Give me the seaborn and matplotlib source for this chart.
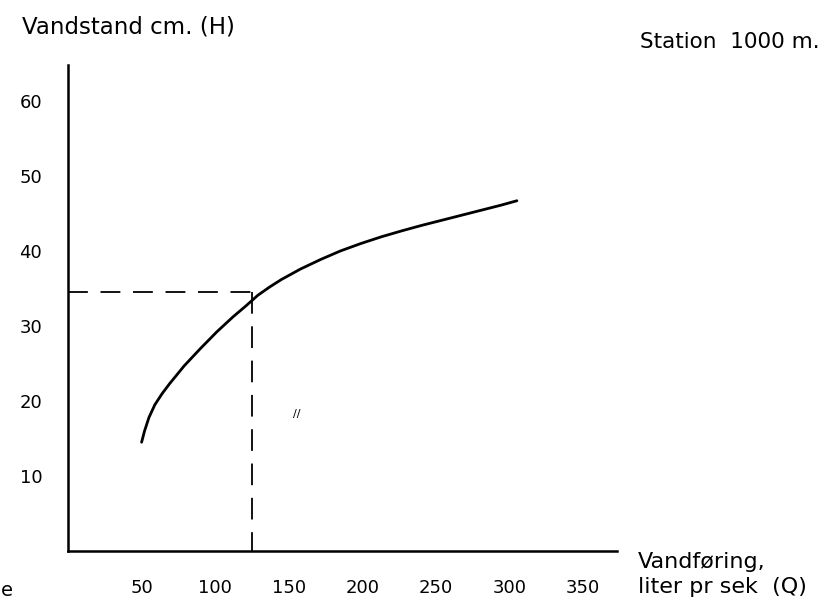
import matplotlib
matplotlib.use("Agg")
import matplotlib.pyplot as plt
import seaborn as sns
import pandas as pd

# --- data ---
discharge_q = [50, 52, 55, 59, 64, 69, 79, 90, 101, 112, 121, 129, 137, 145, 158, 172, 185, 199, 213, 227, 240, 254, 268, 282, 294, 305]
stage_h = [14.5, 16.0, 17.8, 19.5, 21.0, 22.3, 24.7, 27.0, 29.2, 31.2, 32.7, 34.1, 35.2, 36.2, 37.6, 38.9, 40.0, 41.0, 41.9, 42.7, 43.4, 44.1, 44.8, 45.5, 46.1, 46.7]
x_ticks = [50, 100, 150, 200, 250, 300, 350]
y_ticks = [10, 20, 30, 40, 50, 60]
read_h = 34.5
read_q = 125

sns.set_theme(style="white")
plt.rcParams['font.family'] = ['DejaVu Sans']

fig = plt.figure(figsize=(8.23, 6.16), dpi=100)
ax = fig.add_axes([68/823, 65/616, 549/823, 486/616])

df = pd.DataFrame({"Q": discharge_q, "H": stage_h})
sns.lineplot(data=df, x="Q", y="H", ax=ax, color="black", linewidth=2.0, sort=False)

ax.plot([0, read_q + 3], [read_h, read_h], color="black", linewidth=1.3, dashes=(11, 7))
ax.plot([read_q, read_q], [read_h, 0], color="black", linewidth=1.3, dashes=(12, 7))

ax.set_xlim(0, 373)
ax.set_ylim(0, 64.8)
ax.set_xticks(x_ticks)
ax.set_yticks(y_ticks)
ax.set_xticklabels([str(v) for v in x_ticks])
ax.set_yticklabels([str(v) for v in y_ticks])
ax.set_xlabel("")
ax.set_ylabel("")

for s in ["top", "right"]:
    ax.spines[s].set_visible(False)
for s in ["left", "bottom"]:
    ax.spines[s].set_linewidth(1.8)
    ax.spines[s].set_color("black")

ax.tick_params(axis="both", direction="inout", length=11, width=1.5, colors="black",
               labelsize=13, labelcolor="black")
ax.tick_params(axis="x", pad=15)
ax.tick_params(axis="y", pad=13)

fig.text(22/823, 1 - 27/616, "Vandstand cm. (H)", fontsize=16.5, ha="left", va="center", color="black")
fig.text(820/823, 1 - 42/616, "Station  1000 m.", fontsize=15.5, ha="right", va="center", color="black")
fig.text(638/823, 1 - 562/616, "Vandføring,", fontsize=16, ha="left", va="center", color="black")
fig.text(638/823, 1 - 587/616, "liter pr sek  (Q)", fontsize=16, ha="left", va="center", color="black")
fig.text(1/823, 1 - 590/616, "e", fontsize=14, ha="left", va="center", color="black")
fig.text(293/823, 1 - 414/616, "//", fontsize=8, ha="left", va="center", color="black")

fig.savefig("out.png", dpi=100, facecolor="white")
